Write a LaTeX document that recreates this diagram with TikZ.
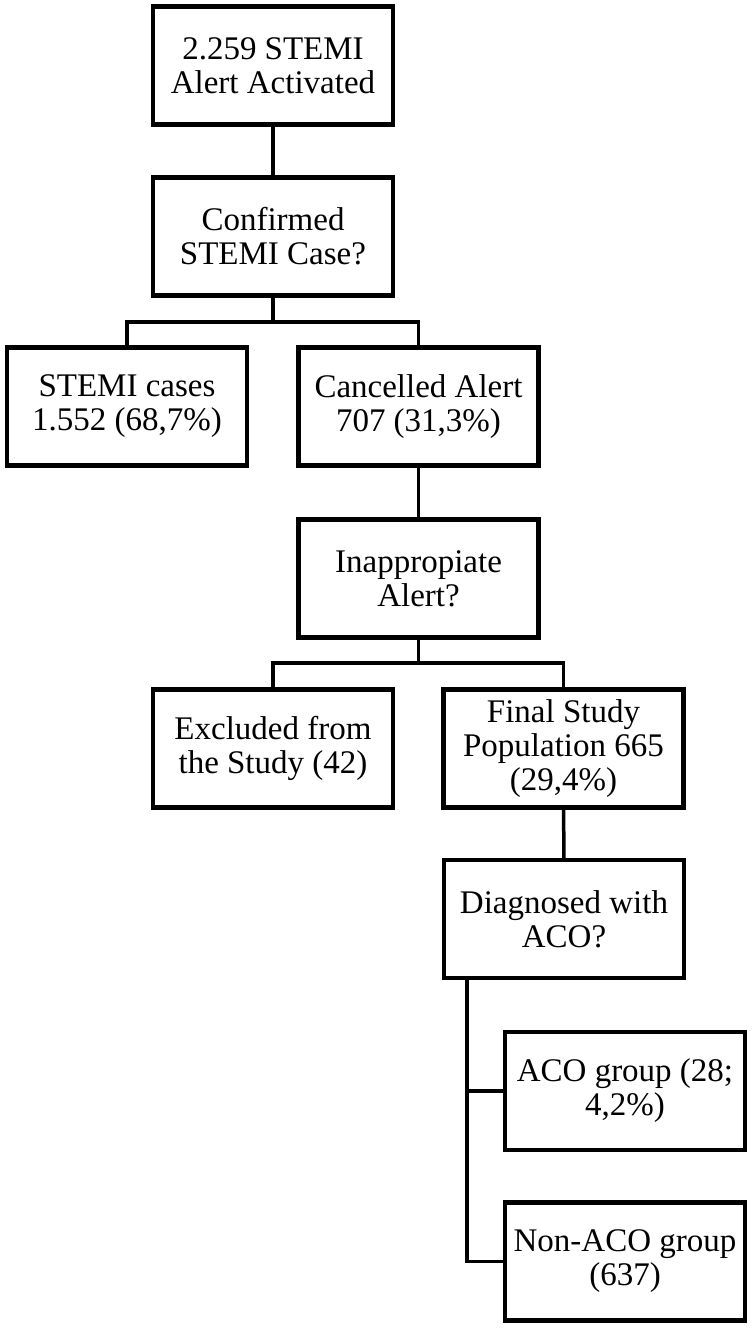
\documentclass[tikz,border=0pt]{standalone}
\usepackage{fontspec}
\setmainfont{Liberation Serif}
\usepackage{tikz}
\tikzset{
  box/.style={draw,line width=4.5pt,minimum width=240pt,minimum height=118pt,align=center,inner sep=2pt,font=\fontsize{33}{34}\selectfont},
  ln/.style={line width=3.5pt}
}
\begin{document}
\begin{tikzpicture}[x=1pt,y=-1pt]
\useasboundingbox (0,0) rectangle (752,1328);
\node[box] (alert) at (273,65.5) {2.259 STEMI\\Alert Activated};
\node[box] (confirm) at (273,236.5) {Confirmed\\STEMI Case?};
\node[box] (stemi) at (127,406.5) {STEMI cases\\1.552 (68,7\%)};
\node[box] (cancel) at (418.5,406.5) {Cancelled Alert\\707 (31,3\%)};
\node[box] (inapp) at (418.5,578.5) {Inappropiate\\Alert?};
\node[box] (excl) at (273,748.5) {Excluded from\\the Study (42)};
\node[box] (final) at (563.5,748.5) {Final Study\\Population 665\\(29,4\%)};
\node[box] (diag) at (564,919) {Diagnosed with\\ACO?};
\node[box] (aco) at (625,1091) {ACO group (28;\\4,2\%)};
\node[box] (nonaco) at (625,1261.5) {Non-ACO group\\(637)};
\coordinate (j1) at (273,322);
\coordinate (j2) at (418.5,663);
\coordinate (j3) at ([xshift=-97pt]diag.south);
\draw[ln] (alert) -- (confirm);
\draw[ln] (confirm) -- (j1);
\draw[ln] (stemi) |- (j1) -| (cancel);
\draw[ln] (cancel) -- (inapp);
\draw[ln] (inapp) -- (j2);
\draw[ln] (excl) |- (j2) -| (final);
\draw[ln] (final) -- (diag);
\draw[ln] (j3) |- (nonaco);
\draw[ln] (j3 |- aco) -- (aco);
\end{tikzpicture}
\end{document}
